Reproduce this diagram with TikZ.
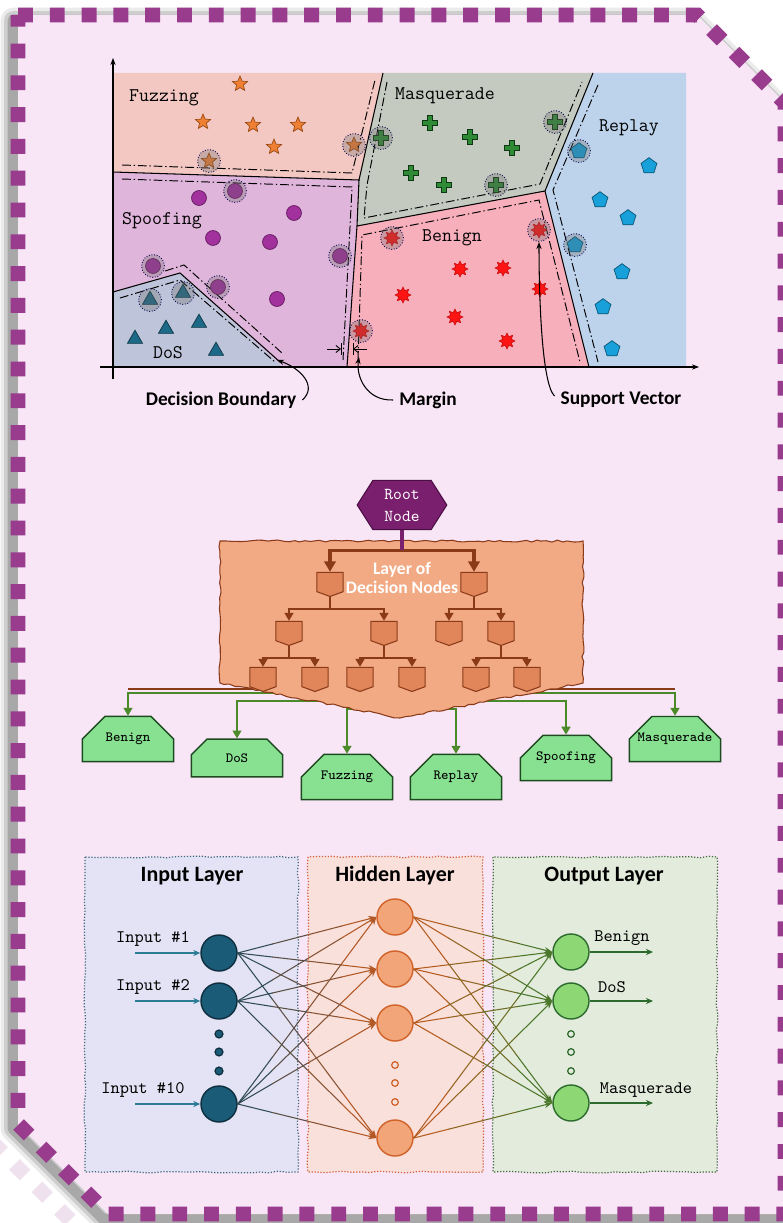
\documentclass[tikz,border=0pt]{standalone}
\usepackage{fontspec}
\newfontfamily\calibri{Carlito}
\usepackage{tikz}
\usetikzlibrary{arrows.meta, positioning, calc}
\usetikzlibrary{shapes.geometric, shapes.misc, shapes.symbols, decorations.pathmorphing}

\tikzset{
	% chart
	boundline/.style={black, line width=.6pt},
	marginline/.style={black, line width=.55pt, dash pattern=on 5pt off 1.6pt on .8pt off 1.6pt},
	axisline/.style={black, line width=.6pt, -{Stealth[length=4pt,width=3pt]}},
	svhalo/.style={fill=black!60, fill opacity=.3, draw=black!70!blue, densely dotted, line width=.5pt},
	fuzzpt/.style={star, star points=5, star point ratio=2.2, minimum size=9pt, inner sep=0pt, fill=fuzzorange, draw=fuzzdark, line width=.4pt},
	spoofpt/.style={circle, minimum size=8.5pt, inner sep=0pt, fill=spoofpurple, draw=spoofdark, line width=.4pt},
	dospt/.style={regular polygon, regular polygon sides=3, minimum size=10pt, inner sep=0pt, fill=dosteal, draw=dosdark, line width=.4pt},
	benpt/.style={star, star points=8, star point ratio=1.7, minimum size=9pt, inner sep=0pt, fill=benred, draw=benred!80!black, line width=.4pt},
	replpt/.style={regular polygon, regular polygon sides=5, minimum size=9.5pt, inner sep=0pt, fill=replblue, draw=repldark, line width=.4pt},
	plusmark/.pic={\filldraw[fill=masqgreen, draw=masqdark, line width=.4pt] (-2.8,-7.5) -- (2.8,-7.5) -- (2.8,-2.8) -- (7.5,-2.8) -- (7.5,2.8) -- (2.8,2.8) -- (2.8,7.5) -- (-2.8,7.5) -- (-2.8,2.8) -- (-7.5,2.8) -- (-7.5,-2.8) -- (-2.8,-2.8) -- cycle;},
	regionlbl/.style={font=\fontsize{11}{12}\selectfont\ttfamily},
	notelbl/.style={font=\calibri\bfseries\fontsize{11}{12}\selectfont},
	calloutarrow/.style={black, line width=.6pt, -{Stealth[length=4pt,width=3pt]}},
	gaparrow/.style={black, line width=.5pt, -{Straight Barb[length=2.5pt,width=4pt]}},
	% tree
	rootnode/.style={signal, signal to=west and east, signal pointer angle=115, fill=rootpurple, draw=rootdark, line width=.6pt, minimum width=51pt, minimum height=28pt, inner sep=1pt, text=white, align=center, font=\fontsize{9.5}{12.5}\selectfont\ttfamily},
	decnode/.style={signal, signal to=south, signal pointer angle=140, fill=decfill, draw=treebrown, line width=.6pt, minimum width=15pt, minimum height=11pt, inner sep=0pt},
	blob/.style={fill=blobfill, draw=treebrown, line width=.6pt, decorate, decoration={random steps, segment length=3pt, amplitude=.6pt}},
	layerlbl/.style={text=white, align=center, font=\calibri\bfseries\fontsize{10}{11.3}\selectfont},
	treeline/.style={treebrown, line width=1.1pt},
	smalledge/.style={treebrown, line width=1.1pt, -{Triangle[length=4.5pt,width=5pt]}},
	bigedge/.style={treebrown, line width=1.8pt, -{Triangle[length=6pt,width=6.5pt]}},
	rootstem/.style={rootpurple, line width=1.8pt},
	leafbox/.style={chamfered rectangle, chamfered rectangle corners={north west, north east}, chamfered rectangle xsep=8pt, chamfered rectangle ysep=9.5pt, fill=leafgreen, draw=leafdark, line width=.8pt, minimum width=52pt, minimum height=21.5pt, inner sep=0pt, font=\fontsize{8}{9}\selectfont\ttfamily},
	leafedge/.style={leafline, line width=1.1pt, -{Triangle[length=4.5pt,width=5pt]}},
	% network
	panel/.style={densely dotted, line width=.7pt, decorate, decoration={random steps, segment length=5pt, amplitude=.5pt}},
	paneltitle/.style={font=\calibri\bfseries\fontsize{12.5}{14}\selectfont},
	nnlbl/.style={font=\fontsize{10}{12}\selectfont\ttfamily},
	neuron/.style={circle, minimum size=20.5pt, inner sep=0pt, line width=.8pt},
	nndot/.style={circle, minimum size=4.5pt, inner sep=0pt, line width=.7pt},
	linkline/.style={line width=.6pt, line cap=round},
}

\begin{document}
\begin{tikzpicture}[x=0.02cm, y=-0.02cm]

	% colours
	\definecolor{framepink}{HTML}{F8E5F6}
	\definecolor{framepurple}{HTML}{9A3C8E}
	\definecolor{fuzzbg}{HTML}{F3C8C3}
	\definecolor{spoofbg}{HTML}{E0B5DB}
	\definecolor{dosbg}{HTML}{BEC4D9}
	\definecolor{masqbg}{HTML}{C4CABF}
	\definecolor{benbg}{HTML}{F8AFBC}
	\definecolor{replbg}{HTML}{BDD3EB}
	\definecolor{fuzzorange}{HTML}{EE7F33}
	\definecolor{fuzzdark}{HTML}{9A4A14}
	\definecolor{spoofpurple}{HTML}{A2309D}
	\definecolor{spoofdark}{HTML}{5E1A5A}
	\definecolor{dosteal}{HTML}{1D6A88}
	\definecolor{dosdark}{HTML}{0D3546}
	\definecolor{masqgreen}{HTML}{2F8A36}
	\definecolor{masqdark}{HTML}{0E3812}
	\definecolor{benred}{HTML}{FF1414}
	\definecolor{replblue}{HTML}{18A0DA}
	\definecolor{repldark}{HTML}{0B5676}
	\definecolor{rootpurple}{HTML}{7A1E6E}
	\definecolor{rootdark}{HTML}{4A0E43}
	\definecolor{blobfill}{HTML}{F2AA84}
	\definecolor{treebrown}{HTML}{8A3A18}
	\definecolor{decfill}{HTML}{E0865A}
	\definecolor{leafgreen}{HTML}{88E190}
	\definecolor{leafdark}{HTML}{1E4A22}
	\definecolor{leafline}{HTML}{4A8A28}
	\definecolor{inbg}{HTML}{E3E3F5}
	\definecolor{inborder}{HTML}{3E6A7E}
	\definecolor{hidbg}{HTML}{F9E0DA}
	\definecolor{hidborder}{HTML}{D0603A}
	\definecolor{outbg}{HTML}{E3EBDC}
	\definecolor{outborder}{HTML}{3E6A3E}
	\definecolor{inteal}{HTML}{1A5B78}
	\definecolor{indark}{HTML}{0E2E3E}
	\definecolor{inarrowc}{HTML}{2C7C96}
	\definecolor{hidorange}{HTML}{F2A578}
	\definecolor{hiddark}{HTML}{D0622A}
	\definecolor{outgreen}{HTML}{8ED775}
	\definecolor{outdark}{HTML}{2D6A2D}
	\definecolor{linkteal}{HTML}{1F4A5A}
	\definecolor{linkorange}{HTML}{C4581E}
	\definecolor{linkgreen}{HTML}{3C7A2A}

	\useasboundingbox (0,0) rectangle (782,1223);

	% frame with soft shadow
	\fill[white] (0,0) rectangle (782,1223);
	\foreach \w/\o in {14pt/.08, 10pt/.12, 6pt/.18}
		\draw[black, line width=\w, opacity=\o, line join=round, shift={(-5,5)}] (18,15) -- (697,15) -- (785,103) -- (785,1214) -- (108,1214) -- (18,1124) -- cycle;
	\draw[framepurple, line width=8.5pt, opacity=.15, dash pattern=on 8.5pt off 9.6pt] (-8,1142) -- (86,1236);
	\fill[framepink] (18,15) -- (697,15) -- (785,103) -- (785,1214) -- (108,1214) -- (18,1124) -- cycle;
	\draw[framepurple, line width=8.5pt, dash pattern=on 8.5pt off 9.6pt] (18,15) -- (697,15) -- (785,103) -- (785,1214) -- (108,1214) -- (18,1124) -- cycle;

	% ---------- SVM ----------
	% regions
	\fill[fuzzbg] (113,73) -- (383,73) -- (359,180) -- (113,172) -- cycle;
	\fill[masqbg] (383,73) -- (593,73) -- (545,191) -- (357,226) -- (359,180) -- cycle;
	\fill[replbg] (593,73) -- (686,73) -- (686,367) -- (589,367) -- (545,191) -- cycle;
	\fill[spoofbg] (113,172) -- (359,180) -- (357,226) -- (347,367) -- (283,367) -- (180,273) -- (113,292) -- cycle;
	\fill[dosbg] (113,292) -- (180,273) -- (283,367) -- (113,367) -- cycle;
	\fill[benbg] (357,226) -- (545,191) -- (589,367) -- (347,367) -- cycle;

	% margins
	\draw[marginline] (122,165) -- (352,173) -- (375,80);
	\draw[marginline] (122,179) -- (352,187) -- (350,227) -- (343,360);
	\draw[marginline] (165,271) -- (184,265) -- (282,353);
	\draw[marginline] (120,298) -- (180,280) -- (275,362);
	\draw[marginline] (387,82) -- (367,185) -- (364,218) -- (540,184) -- (582,82);
	\draw[marginline] (358,360) -- (362,235) -- (539,200) -- (580,362);
	\draw[marginline] (598,85) -- (553,190) -- (598,362);

	% boundaries
	\draw[boundline] (113,172) -- (359,180) -- (383,73);
	\draw[boundline] (359,180) -- (357,226) -- (347,367);
	\draw[boundline] (357,226) -- (545,191) -- (593,73);
	\draw[boundline] (545,191) -- (589,367);
	\draw[boundline] (113,292) -- (180,273) -- (280,362);

	% axes
	\draw[axisline] (113,379) -- (113,58);
	\draw[axisline] (100,367) -- (699,367);

	% samples
	\foreach \p [count=\k] in {(240,84),(203,122),(253,125),(298,125),(274,147),(209,161),(354,145)}
		\node[fuzzpt] (fz\k) at \p {};
	\foreach \p [count=\k] in {(199,198),(213,238),(270,242),(294,213),(277,299),(235,191),(340,256),(153,266),(218,287)}
		\node[spoofpt] (sp\k) at \p {};
	\foreach \p [count=\k] in {(135,339),(166,329),(199,323),(216,351),(150,300),(183,293)}
		\node[dospt] (ds\k) at \p {};
	\foreach \p [count=\k] in {(430,123),(470,137),(512,148),(411,173),(444,185),(381,138),(555,122),(496,185)}
		\pic (mq\k) at \p {plusmark};
	\foreach \p [count=\k] in {(460,269),(503,268),(540,289),(403,295),(455,317),(507,341),(392,238),(539,230),(361,331)}
		\node[benpt] (bn\k) at \p {};
	\foreach \p [count=\k] in {(649,166),(600,200),(628,218),(622,272),(603,307),(612,349),(579,151),(575,245)}
		\node[replpt] (rp\k) at \p {};

	% support vectors
	\foreach \p in {(209,161),(354,145),(235,191),(340,256),(153,266),(218,287),(150,300),(183,293),(381,138),(555,122),(496,185),(392,238),(539,230),(361,331),(579,151),(575,245)}
		\draw[svhalo] \p circle (6.5pt);

	% labels
	\node[regionlbl] (lfuz) at (164,98) {Fuzzing};
	\node[regionlbl] (lspo) at (162,221) {Spoofing};
	\node[regionlbl] (ldos) at (168,353) {DoS};
	\node[regionlbl] (lmas) at (445,96) {Masquerade};
	\node[regionlbl] (lben) at (452,238) {Benign};
	\node[regionlbl] (lrep) at (629,128) {Replay};

	% margin width
	\coordinate (gapl) at (341,349);
	\coordinate (gapr) at (353,349);
	\draw[gaparrow] ($(gapl)+(-14,0)$) -- (gapl);
	\draw[gaparrow] ($(gapr)+(14,0)$) -- (gapr);
	\draw[black, line width=.5pt] ($(gapl)+(0,-6)$) -- ($(gapl)+(0,6)$);
	\draw[black, line width=.5pt] ($(gapr)+(0,-6)$) -- ($(gapr)+(0,6)$);

	% callouts
	\node[notelbl] (dbtxt) at (221,400) {Decision Boundary};
	\node[notelbl] (mgtxt) at (428,400) {Margin};
	\node[notelbl] (svtxt) at (621,400) {Support Vector};
	\coordinate (dbtip) at (277,360);
	\coordinate (mgtip) at (359,357);
	\coordinate (svtip) at (539,242);
	\draw[calloutarrow] (dbtxt.east) .. controls (318,386) and (300,368) .. (dbtip);
	\draw[calloutarrow] (mgtxt.west) .. controls (366,401) and (356,376) .. (mgtip);
	\draw[calloutarrow] ($(svtxt.west)+(0,-4)$) .. controls (542,384) and (539,300) .. (svtip);

	% ---------- decision tree ----------
	\node[leafbox] (lfben) at (128,739) {Benign};
	\node[leafbox] (lfdos) at (237,758) {DoS};
	\node[leafbox] (lffuz) at (347,777) {Fuzzing};
	\node[leafbox] (lfrep) at (456,777) {Replay};
	\node[leafbox] (lfspo) at (566,758) {Spoofing};
	\node[leafbox] (lfmas) at (675,739) {Masquerade};

	\coordinate (brownbar) at (402,689);
	\coordinate (tapA) at (402,693);
	\coordinate (tapB) at (402,701);
	\coordinate (tapC) at (402,709);
	\draw[leafedge] (tapA) -| (lfben.north);
	\draw[leafedge] (tapA) -| (lfmas.north);
	\draw[leafedge] (tapB) -| (lfdos.north);
	\draw[leafedge] (tapB) -| (lfspo.north);
	\draw[leafedge] (tapC) -| (lffuz.north);
	\draw[leafedge] (tapC) -| (lfrep.north);
	\draw[treeline] (lfben.north |- brownbar) -- (lfmas.north |- brownbar);

	\pgfmathsetseed{11}
	\filldraw[blob] (220,541) -- (583,541) -- (583,683) -- (400,718) -- (220,683) -- cycle;

	\node[rootnode] (root) at (402,505) {Root\\Node};
	\node[decnode] (d1) at (330,582) {};
	\node[decnode] (d2) at (474,582) {};
	\node[decnode] (d3) at (289,631) {};
	\node[decnode] (d4) at (384,631) {};
	\node[decnode] (d5) at (449,631) {};
	\node[decnode] (d6) at (501,631) {};
	\node[decnode] (d7) at (263,677) {};
	\node[decnode] (d8) at (315,677) {};
	\node[decnode] (d9) at (360,677) {};
	\node[decnode] (d10) at (412,677) {};
	\node[decnode] (d11) at (476,677) {};
	\node[decnode] (d12) at (527,677) {};
	\node[layerlbl] (layer) at (402,578) {Layer of\\Decision Nodes};

	\coordinate (fork) at ($(root.south)+(0,20)$);
	\draw[bigedge] (fork) -| (d1.north);
	\draw[bigedge] (fork) -| (d2.north);
	\draw[rootstem] (root.south) -- (fork);
	\foreach \a/\b/\c in {d1/d3/d4, d2/d5/d6, d3/d7/d8, d4/d9/d10, d6/d11/d12}{
		\draw[smalledge] (\a.south) -- ++(0,12) -| (\b.north);
		\draw[smalledge] (\a.south) -- ++(0,12) -| (\c.north);
	}

	% ---------- neural network ----------
	\filldraw[panel, fill=inbg, draw=inborder] (85,857) rectangle (298,1172);
	\filldraw[panel, fill=hidbg, draw=hidborder] (308,857) rectangle (483,1172);
	\filldraw[panel, fill=outbg, draw=outborder] (493,857) rectangle (717,1172);
	\node[paneltitle] (intitle) at (192,876) {Input Layer};
	\node[paneltitle] (hidtitle) at (395,876) {Hidden Layer};
	\node[paneltitle] (outtitle) at (604,876) {Output Layer};

	\node[neuron, fill=inteal, draw=indark] (in1) at (219,953) {};
	\node[neuron, fill=inteal, draw=indark] (in2) at (219,1001) {};
	\node[neuron, fill=inteal, draw=indark] (in10) at (219,1104) {};
	\node[neuron, fill=hidorange, draw=hiddark] (h1) at (395,917) {};
	\node[neuron, fill=hidorange, draw=hiddark] (h2) at (395,969) {};
	\node[neuron, fill=hidorange, draw=hiddark] (h3) at (395,1023) {};
	\node[neuron, fill=hidorange, draw=hiddark] (h4) at (395,1138) {};
	\node[neuron, fill=outgreen, draw=outdark] (o1) at (571,952) {};
	\node[neuron, fill=outgreen, draw=outdark] (o2) at (571,1001) {};
	\node[neuron, fill=outgreen, draw=outdark] (o3) at (571,1103) {};
	\foreach \y [count=\k] in {1034,1052,1071}{
		\node[nndot, fill=inteal, draw=indark] (idot\k) at (219,\y) {};
		\node[nndot, minimum size=3.8pt, fill=hidbg, draw=hiddark] (hdot\k) at (395,\y+31) {};
		\node[nndot, minimum size=3.8pt, fill=outbg, draw=outdark] (odot\k) at (571,\y) {};
	}

	% links
	\foreach \i in {in1,in2,in10}
		\foreach \j in {h1,h2,h3,h4}{
			\foreach \s/\e/\m in {0/.25/10, .25/.5/37, .5/.75/63}
				\draw[linkline, color=linkorange!\m!linkteal] ($(\i.east)!\s!(\j.west)$) -- ($(\i.east)!\e!(\j.west)$);
			\draw[linkline, color=linkorange!90!linkteal, -{Stealth[length=4.5pt,width=3.5pt]}] ($(\i.east)!.75!(\j.west)$) -- (\j.west);
		}
	\foreach \i in {h1,h2,h3,h4}
		\foreach \j in {o1,o2,o3}{
			\foreach \s/\e/\m in {0/.25/10, .25/.5/37, .5/.75/63}
				\draw[linkline, color=linkgreen!\m!linkorange] ($(\i.east)!\s!(\j.west)$) -- ($(\i.east)!\e!(\j.west)$);
			\draw[linkline, color=linkgreen!90!linkorange, -{Stealth[length=4.5pt,width=3.5pt]}] ($(\i.east)!.75!(\j.west)$) -- (\j.west);
		}

	% inputs and outputs
	\coordinate (x1) at (135,953);
	\coordinate (x2) at (135,1001);
	\coordinate (x10) at (135,1104);
	\draw[inarrowc, line width=.8pt, -{Stealth[length=4pt,width=3.5pt]}] (x1) -- (in1.west);
	\draw[inarrowc, line width=.8pt, -{Stealth[length=4pt,width=3.5pt]}] (x2) -- (in2.west);
	\draw[inarrowc, line width=.8pt, -{Stealth[length=4pt,width=3.5pt]}] (x10) -- (in10.west);
	\node[nnlbl] (lx1) at (153,939) {Input \#1};
	\node[nnlbl] (lx2) at (153,987) {Input \#2};
	\node[nnlbl] (lx10) at (143,1090) {Input \#10};

	\coordinate (y1) at (653,952);
	\coordinate (y2) at (653,1001);
	\coordinate (y3) at (653,1103);
	\draw[outdark, line width=.8pt, -{Stealth[length=4pt,width=3.5pt]}] (o1.east) -- (y1);
	\draw[outdark, line width=.8pt, -{Stealth[length=4pt,width=3.5pt]}] (o2.east) -- (y2);
	\draw[outdark, line width=.8pt, -{Stealth[length=4pt,width=3.5pt]}] (o3.east) -- (y3);
	\node[nnlbl] (ly1) at (622,938) {Benign};
	\node[nnlbl] (ly2) at (612,987) {DoS};
	\node[nnlbl] (ly3) at (646,1090) {Masquerade};

\end{tikzpicture}
\end{document}
